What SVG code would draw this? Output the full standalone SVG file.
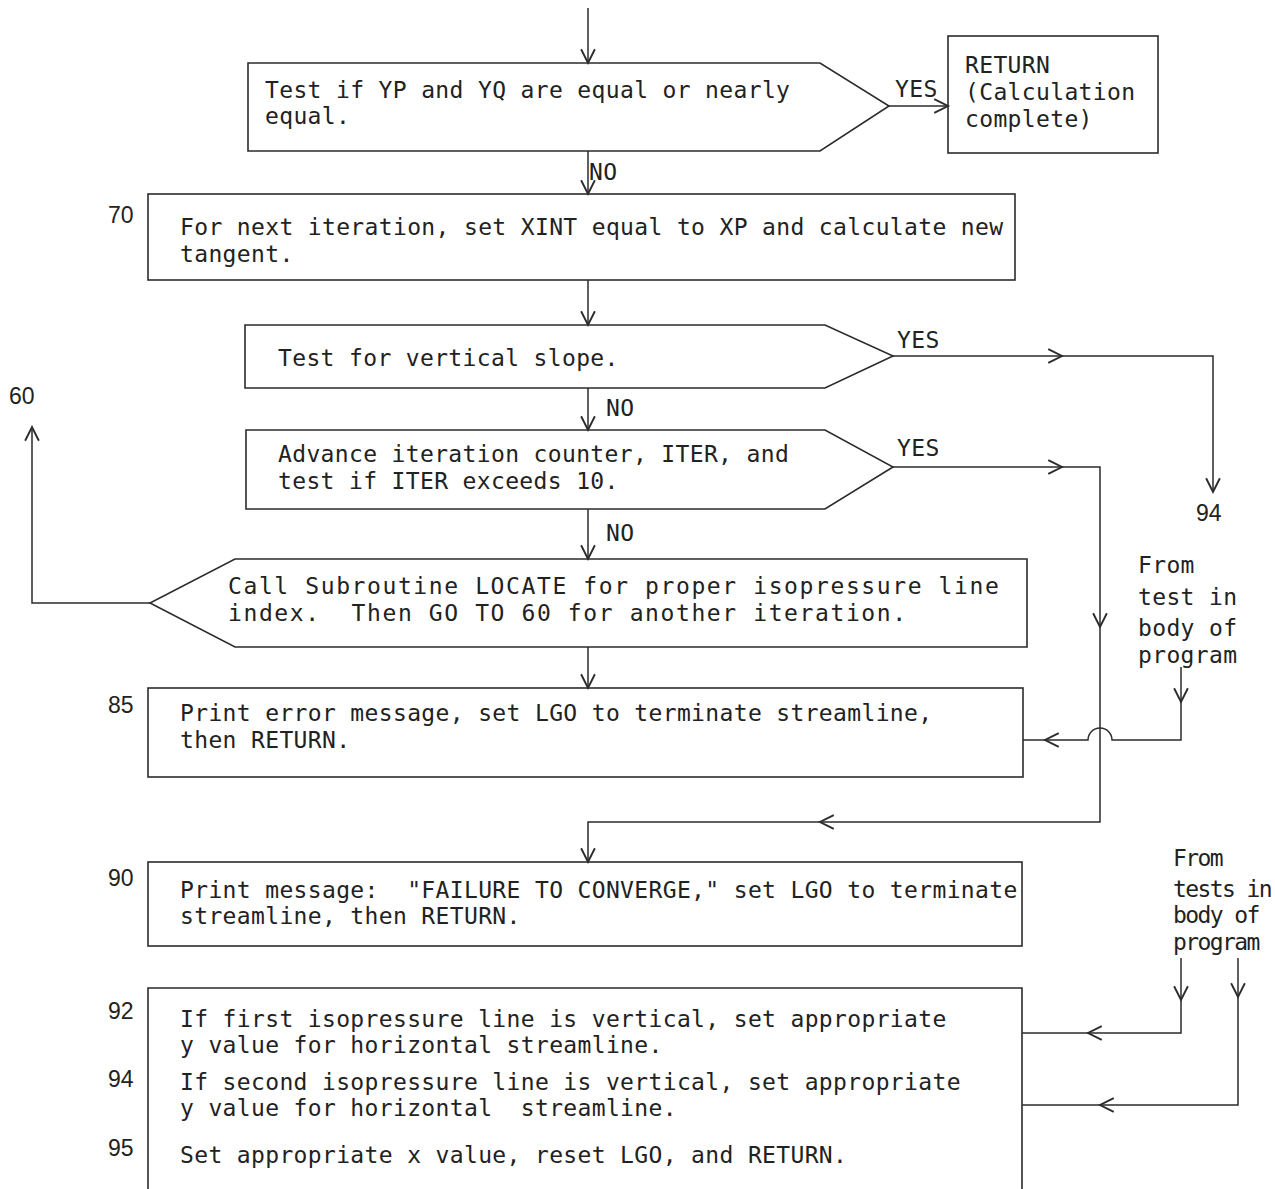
<svg xmlns="http://www.w3.org/2000/svg" width="1275" height="1189" viewBox="0 0 1275 1189">
  <style>
    .box { fill: none; stroke: #2b2b2b; stroke-width: 1.6; }
    .wire { fill: none; stroke: #2b2b2b; stroke-width: 1.5; }
    .t { font-family: "DejaVu Sans Mono", monospace; font-size: 23px; letter-spacing: 0.35px; fill: #222; white-space: pre; }
    .wide { letter-spacing: 1.6px; }
    .narrow { letter-spacing: -1.6px; }
    .num { font-family: "Liberation Sans", Arial, sans-serif; font-size: 23px; fill: #222; }
  </style>
  <defs>
    <marker id="ah" markerUnits="userSpaceOnUse" markerWidth="20" markerHeight="20" viewBox="-12 -8 14 16" refX="0" refY="0" orient="auto">
      <path d="M-11,-5.5 L0,0 L-11,5.5" fill="none" stroke="#2b2b2b" stroke-width="1.5"/>
    </marker>
  </defs>
  <rect width="1275" height="1189" fill="#fff"/>

  <!-- decision: YP vs YQ -->
  <g id="n-test-equal">
    <path class="box" d="M248,63 H820 L889,106 L820,151 H248 Z"/>
    <text class="t" x="265" y="98">Test if YP and YQ are equal or nearly</text>
    <text class="t" x="265" y="124">equal.</text>
  </g>

  <g id="n-return">
    <rect class="box" x="948" y="36" width="210" height="117"/>
    <text class="t" x="965" y="73">RETURN</text>
    <text class="t" x="965" y="100">(Calculation</text>
    <text class="t" x="965" y="127">complete)</text>
  </g>

  <g id="n-70">
    <text class="num" x="108" y="223">70</text>
    <rect class="box" x="148" y="194" width="867" height="86"/>
    <text class="t" x="180" y="235">For next iteration, set XINT equal to XP and calculate new</text>
    <text class="t" x="180" y="262">tangent.</text>
  </g>

  <g id="n-slope">
    <path class="box" d="M245,325 H825 L893,356 L825,388 H245 Z"/>
    <text class="t" x="278" y="366">Test for vertical slope.</text>
  </g>

  <g id="n-iter">
    <path class="box" d="M246,430 H825 L893,467 L825,509 H246 Z"/>
    <text class="t" x="278" y="462">Advance iteration counter, ITER, and</text>
    <text class="t" x="278" y="489">test if ITER exceeds 10.</text>
  </g>

  <g id="n-locate">
    <path class="box" d="M235,559 H1027 V647 H235 L150,603 Z"/>
    <text class="t wide" x="228" y="594">Call Subroutine LOCATE for proper isopressure line</text>
    <text class="t wide" x="228" y="621" xml:space="preserve">index.  Then GO TO 60 for another iteration.</text>
  </g>

  <g id="n-85">
    <text class="num" x="108" y="713">85</text>
    <rect class="box" x="148" y="688" width="875" height="89"/>
    <text class="t" x="180" y="721">Print error message, set LGO to terminate streamline,</text>
    <text class="t" x="180" y="748">then RETURN.</text>
  </g>

  <g id="n-90">
    <text class="num" x="108" y="886">90</text>
    <rect class="box" x="148" y="862" width="874" height="84"/>
    <text class="t" x="180" y="898" xml:space="preserve">Print message:  "FAILURE TO CONVERGE," set LGO to terminate</text>
    <text class="t" x="180" y="924">streamline, then RETURN.</text>
  </g>

  <g id="n-92-95">
    <text class="num" x="108" y="1019">92</text>
    <text class="num" x="108" y="1087">94</text>
    <text class="num" x="108" y="1156">95</text>
    <path class="box" d="M148,1200 V988 H1022 V1200"/>
    <text class="t" x="180" y="1027">If first isopressure line is vertical, set appropriate</text>
    <text class="t" x="180" y="1053">y value for horizontal streamline.</text>
    <text class="t" x="180" y="1090">If second isopressure line is vertical, set appropriate</text>
    <text class="t" x="180" y="1116" xml:space="preserve">y value for horizontal  streamline.</text>
    <text class="t" x="180" y="1163">Set appropriate x value, reset LGO, and RETURN.</text>
  </g>

  <!-- off-page references -->
  <g id="refs">
    <text class="num" x="9" y="404">60</text>
    <text class="num" x="1196" y="521">94</text>
    <text class="t" x="1138" y="573">From</text>
    <text class="t" x="1138" y="605">test in</text>
    <text class="t" x="1138" y="636">body of</text>
    <text class="t" x="1138" y="663">program</text>
    <text class="t narrow" x="1173" y="866">From</text>
    <text class="t narrow" x="1173" y="897">tests in</text>
    <text class="t narrow" x="1173" y="923">body of</text>
    <text class="t narrow" x="1173" y="950">program</text>
  </g>

  <g id="connectors">
    <path class="wire" d="M588,8 V63" marker-end="url(#ah)"/>
    <path class="wire" d="M889,106 H948" marker-end="url(#ah)"/>
    <text class="t" x="895" y="97">YES</text>

    <path class="wire" d="M588,151 V194" marker-end="url(#ah)"/>
    <text class="t" x="589" y="180">NO</text>

    <path class="wire" d="M588,280 V325" marker-end="url(#ah)"/>

    <path class="wire" d="M893,356 H1062" marker-end="url(#ah)"/>
    <path class="wire" d="M1060,356 H1213 V492" marker-end="url(#ah)"/>
    <text class="t" x="897" y="348">YES</text>

    <path class="wire" d="M588,388 V430" marker-end="url(#ah)"/>
    <text class="t" x="606" y="416">NO</text>

    <path class="wire" d="M893,467 H1062" marker-end="url(#ah)"/>
    <path class="wire" d="M1060,467 H1100 V627" marker-end="url(#ah)"/>
    <path class="wire" d="M1100,625 V822 H820" marker-end="url(#ah)"/>
    <path class="wire" d="M822,822 H588 V862" marker-end="url(#ah)"/>
    <text class="t" x="897" y="456">YES</text>

    <path class="wire" d="M588,509 V559" marker-end="url(#ah)"/>
    <text class="t" x="606" y="541">NO</text>

    <path class="wire" d="M150,603 H32 V427" marker-end="url(#ah)"/>

    <path class="wire" d="M588,647 V688" marker-end="url(#ah)"/>

    <path class="wire" d="M1181,667 V702" marker-end="url(#ah)"/>
    <path class="wire" d="M1181,700 V740 H1112 A12,12 0 0 0 1088,740 H1045" marker-end="url(#ah)"/>
    <path class="wire" d="M1047,740 H1023"/>

    <path class="wire" d="M1181,958 V1000" marker-end="url(#ah)"/>
    <path class="wire" d="M1181,998 V1033 H1088" marker-end="url(#ah)"/>
    <path class="wire" d="M1090,1033 H1022"/>
    <path class="wire" d="M1238,958 V997" marker-end="url(#ah)"/>
    <path class="wire" d="M1238,995 V1105 H1100" marker-end="url(#ah)"/>
    <path class="wire" d="M1102,1105 H1022"/>
  </g>
</svg>
